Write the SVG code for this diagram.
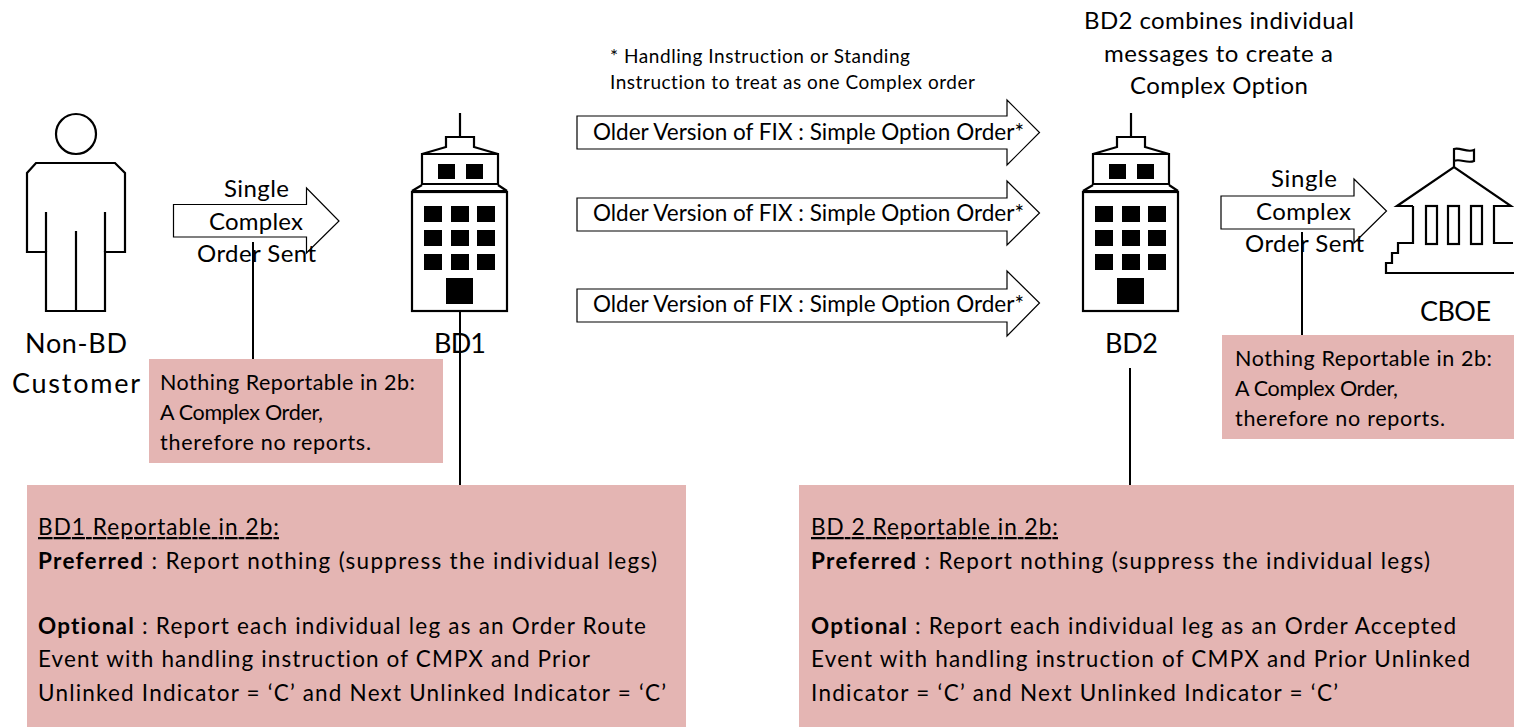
<svg xmlns="http://www.w3.org/2000/svg" xmlns:xlink="http://www.w3.org/1999/xlink" width="1514" height="727" viewBox="0 0 1514 727">
<style>
text{font-family:"Lato","Open Sans","Liberation Sans",sans-serif;fill:#000;font-variant-ligatures:none}
.t25{font-size:24px}.t27{font-size:27px}.t20{font-size:19px}.t22{font-size:21.5px}.t23{font-size:22.5px}
.box{fill:#e4b5b3}
.arrow{fill:#fff;stroke:#000;stroke-width:1.2}
.ln{fill:none;stroke:#000;stroke-width:2.2;stroke-linejoin:miter}
.conn{stroke:#000;stroke-width:2;fill:none}
.b{font-weight:700}
</style>
<defs>
<g id="tower">
<path class="ln" d="M460 113V137"/>
<path class="ln" d="M422 154L446 147V137H474V147L498 154M422 154H498V184H422ZM422 185L412 191M498 185L507 191"/>
<path d="M412 190H507V192.500H412Z"/>
<rect class="ln" x="412" y="192" width="95" height="119"/>
<path d="M438 164h17v15h-17zM466 164h17v15h-17zM424 206h18v16h-18zM451 206h18v16h-18zM477 206h18v16h-18zM424 230h18v16h-18zM451 230h18v16h-18zM477 230h18v16h-18zM424 254h18v16h-18zM451 254h18v16h-18zM477 254h18v16h-18zM446 278h27v26h-27z"/>
</g>
</defs>
<g id="pink-boxes">
<rect id="box-nothing-1" class="box" x="149" y="359" width="294" height="104"/>
<rect id="box-nothing-2" class="box" x="1222" y="335" width="292" height="104"/>
<rect id="box-bd1" class="box" x="27" y="485" width="659" height="242"/>
<rect id="box-bd2" class="box" x="799" y="485" width="715" height="242"/>
</g>
<g id="customer">
<circle class="ln" cx="76" cy="134" r="20"/>
<path class="ln" d="M36 163H115L125 173V252H105V311H46V252H27V173Z"/>
<path class="ln" d="M46 212V252M105 212V252M76 231V311"/>
<text class="t27" x="25" y="353" textLength="102">Non-BD</text>
<text class="t27" x="12" y="393" textLength="128">Customer</text>
</g>
<g id="bd1"><use href="#tower"/><text class="t27" x="434" y="353" textLength="52">BD1</text></g>
<g id="bd2"><use href="#tower" x="671"/><text class="t27" x="1105" y="353" textLength="53">BD2</text></g>
<g id="cboe">
<path class="ln" d="M1454 167V149C1460 147 1467 153 1474 150V161C1467 164 1460 158 1454 161"/>
<path class="ln" d="M1413 206H1397L1454 167L1511 206H1494V243H1513M1413 206V243H1398V253H1392V263H1386V273H1514"/>
<rect class="ln" x="1426" y="206" width="11" height="38"/>
<rect class="ln" x="1448" y="206" width="11" height="38"/>
<rect class="ln" x="1471" y="206" width="11" height="38"/>
<text class="t27" x="1420" y="321" textLength="71">CBOE</text>
</g>
<g id="arrows">
<path class="arrow" d="M173.500 204.500H306.500V188L339 221L306.500 253V237H173.500Z"/>
<path class="arrow" d="M1221 196H1354V179L1386.500 211L1354 243V229H1221Z"/>
<path class="arrow" d="M577 116H1007V100L1039.500 132.500L1007 165V149H577Z"/>
<path class="arrow" d="M577 198H1007V181L1039.500 213L1007 245V231H577Z"/>
<path class="arrow" d="M577 289H1007V271L1039.500 303L1007 336V322H577Z"/>
</g>
<g id="connectors">
<path class="conn" d="M253 242V359"/>
<path class="conn" d="M460 311V485"/>
<path class="conn" d="M1302 232V335"/>
<path class="conn" d="M1130 368V485"/>
</g>
<g id="labels">
<text class="t20" x="610" y="63" textLength="300">* Handling Instruction or Standing</text>
<text class="t20" x="610" y="89" textLength="365">Instruction to treat as one Complex order</text>
<text class="t25" x="1084" y="29" textLength="270">BD2 combines individual</text>
<text class="t25" x="1104" y="62" textLength="229">messages to create a</text>
<text class="t25" x="1130" y="94" textLength="178">Complex Option</text>
<text class="t23" x="593" y="140" textLength="431">Older Version of FIX : Simple Option Order*</text>
<text class="t23" x="593" y="221" textLength="431">Older Version of FIX : Simple Option Order*</text>
<text class="t23" x="593" y="312" textLength="431">Older Version of FIX : Simple Option Order*</text>
<text class="t25" x="224" y="197" textLength="65">Single</text>
<text class="t25" x="209" y="230" textLength="94">Complex</text>
<text class="t25" x="197" y="262" textLength="119">Order Sent</text>
<text class="t25" x="1271" y="187" textLength="66">Single</text>
<text class="t25" x="1256" y="220" textLength="95">Complex</text>
<text class="t25" x="1245" y="252" textLength="119">Order Sent</text>
<text class="t22" x="160" y="390" textLength="255">Nothing Reportable in 2b:</text>
<text class="t22" x="160" y="420" textLength="163">A Complex Order,</text>
<text class="t22" x="160" y="450" textLength="211">therefore no reports.</text>
<text class="t22" x="1235" y="366" textLength="257">Nothing Reportable in 2b:</text>
<text class="t22" x="1235" y="396" textLength="163">A Complex Order,</text>
<text class="t22" x="1235" y="426" textLength="210">therefore no reports.</text>
<text class="t23" x="38" y="535" text-decoration="underline" textLength="241">BD1 Reportable in 2b:</text>
<text class="t23" x="38" y="569" textLength="619"><tspan class="b">Preferred</tspan> : Report nothing (suppress the individual legs)</text>
<text class="t23" x="38" y="634" textLength="608"><tspan class="b">Optional</tspan> : Report each individual leg as an Order Route</text>
<text class="t23" x="38" y="667" textLength="552">Event with handling instruction of CMPX and Prior</text>
<text class="t23" x="38" y="701" textLength="628">Unlinked Indicator = ‘C’ and Next Unlinked Indicator = ‘C’</text>
<text class="t23" x="811" y="535" text-decoration="underline" textLength="247">BD 2 Reportable in 2b:</text>
<text class="t23" x="811" y="569" textLength="619"><tspan class="b">Preferred</tspan> : Report nothing (suppress the individual legs)</text>
<text class="t23" x="811" y="634" textLength="645"><tspan class="b">Optional</tspan> : Report each individual leg as an Order Accepted</text>
<text class="t23" x="811" y="667" textLength="659">Event with handling instruction of CMPX and Prior Unlinked</text>
<text class="t23" x="811" y="701" textLength="527">Indicator = ‘C’ and Next Unlinked Indicator = ‘C’</text>
</g>
</svg>
